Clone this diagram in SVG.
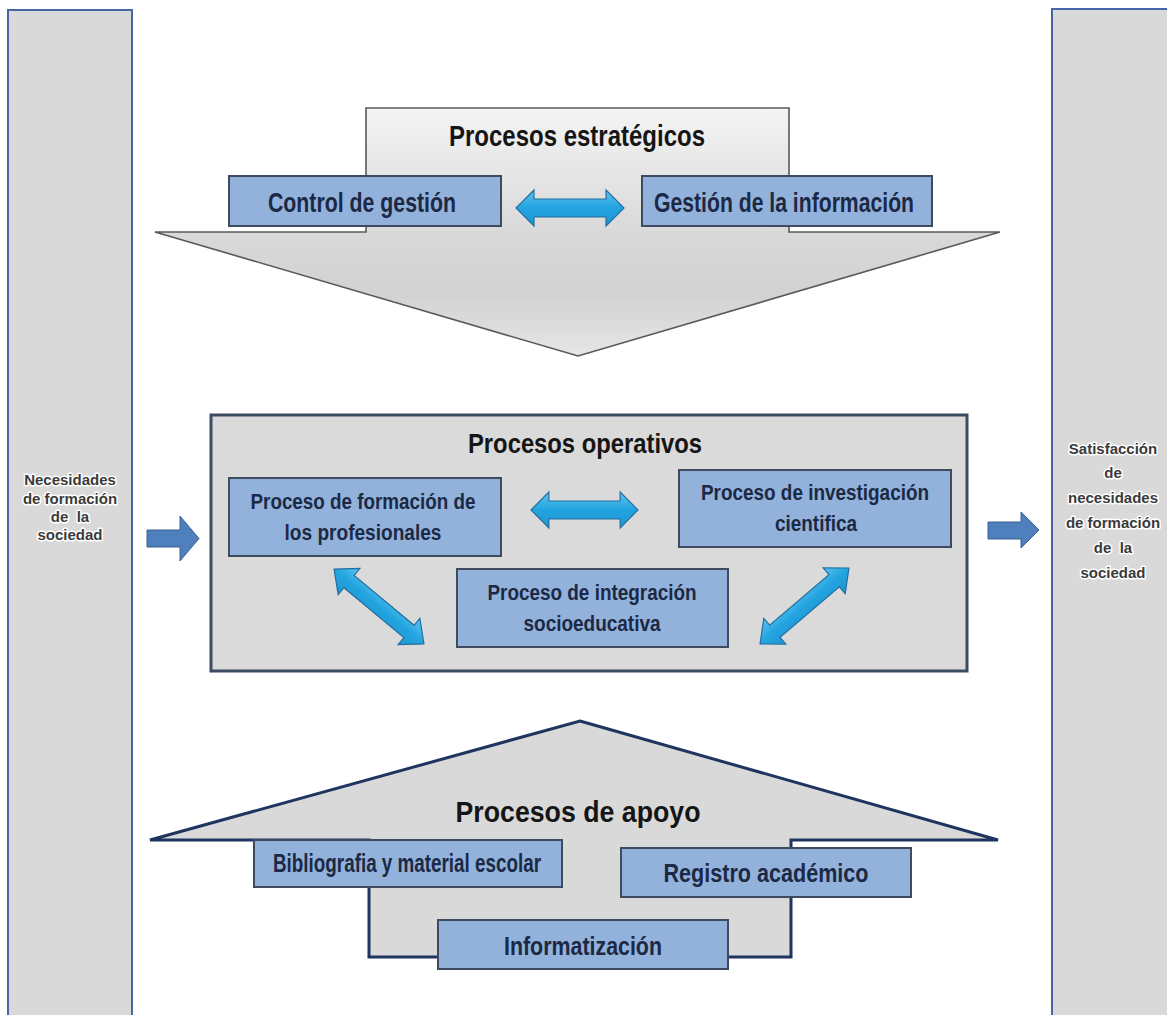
<svg xmlns="http://www.w3.org/2000/svg" width="1167" height="1015" viewBox="0 0 1167 1015">
  <defs>
    <linearGradient id="gStrat" x1="0" y1="108" x2="0" y2="356" gradientUnits="userSpaceOnUse">
      <stop offset="0" stop-color="#f4f4f4"/>
      <stop offset="0.5" stop-color="#d9d9d9"/>
      <stop offset="0.75" stop-color="#d2d2d2"/>
      <stop offset="1" stop-color="#e6e6e6"/>
    </linearGradient>
    <linearGradient id="gCyan" x1="0" y1="0" x2="0" y2="1">
      <stop offset="0" stop-color="#5cc3ee"/>
      <stop offset="0.5" stop-color="#22a4e0"/>
      <stop offset="1" stop-color="#1f95cf"/>
    </linearGradient>
    <polygon id="dbl" points="-54,0 -36,-18 -36,-9 36,-9 36,-18 54,0 36,18 36,9 -36,9 -36,18"/>
    <polygon id="dblDiag" points="-58.5,0 -39,-17 -39,-8 39,-8 39,-17 58.5,0 39,17 39,8 -39,8 -39,17"/>
  </defs>
  <style>
    .bar { fill: #d9d9d9; stroke: #4666a6; stroke-width: 2; }
    .box { fill: #92b2dc; stroke: #3e4b5e; stroke-width: 2; }
    .lbl { font-family: "Liberation Sans Narrow", "Liberation Sans", Arial, sans-serif; font-weight: bold; fill: #1c2944; text-anchor: middle; }
    .title { font-family: "Liberation Sans Narrow", "Liberation Sans", Arial, sans-serif; font-weight: bold; fill: #151515; text-anchor: middle; }
    .side { font-family: "Liberation Sans", Arial, sans-serif; font-weight: bold; font-size: 15px; fill: #3a3a3a; text-anchor: middle; paint-order: stroke; stroke: #ffffff; stroke-width: 3; stroke-linejoin: round; }
    .dbl { fill: url(#gCyan); stroke: #236f9f; stroke-width: 1.2; }
    .blk { fill: #4f7fbc; stroke: #3a6296; stroke-width: 1; }
  </style>

  <rect width="1167" height="1015" fill="#ffffff"/>

  <!-- Left side bar -->
  <g id="necesidades">
    <rect class="bar" x="8" y="10" width="124" height="1012"/>
    <text class="side" x="70" y="485">Necesidades</text>
    <text class="side" x="70" y="504">de formación</text>
    <text class="side" x="70" y="522" xml:space="preserve">de  la</text>
    <text class="side" x="70" y="540">sociedad</text>
  </g>

  <!-- Right side bar -->
  <g id="satisfaccion">
    <rect class="bar" x="1052" y="9" width="120" height="1012"/>
    <text class="side" x="1113" y="454">Satisfacción</text>
    <text class="side" x="1113" y="478">de</text>
    <text class="side" x="1113" y="503">necesidades</text>
    <text class="side" x="1113" y="528">de formación</text>
    <text class="side" x="1113" y="553" xml:space="preserve">de  la</text>
    <text class="side" x="1113" y="578">sociedad</text>
  </g>

  <!-- Strategic processes -->
  <g id="procesos-estrategicos">
    <path d="M366,108 H789 V232 H1000 L578,356 L155,232 H366 Z" fill="url(#gStrat)" stroke="#595959" stroke-width="1.6" stroke-linejoin="miter"/>
    <text class="title" x="577" y="146" font-size="29" textLength="256" lengthAdjust="spacingAndGlyphs">Procesos estratégicos</text>
  </g>
  <g id="control-gestion">
    <rect class="box" x="229" y="176" width="272" height="50"/>
    <text class="lbl" x="362" y="212" font-size="28" textLength="188" lengthAdjust="spacingAndGlyphs">Control de gestión</text>
  </g>
  <g id="gestion-informacion">
    <rect class="box" x="642" y="176" width="290" height="50"/>
    <text class="lbl" x="784" y="212" font-size="28" textLength="260" lengthAdjust="spacingAndGlyphs">Gestión de la información</text>
  </g>

  <!-- Operative processes -->
  <g id="procesos-operativos">
    <rect x="211" y="415" width="756" height="256" fill="#dadada" stroke="#3d4b63" stroke-width="3"/>
    <text class="title" x="585" y="453" font-size="28" textLength="234" lengthAdjust="spacingAndGlyphs">Procesos operativos</text>
  </g>
  <g id="formacion-profesionales">
    <rect class="box" x="229" y="478" width="272" height="78"/>
    <text class="lbl" x="363" y="509" font-size="22" textLength="225" lengthAdjust="spacingAndGlyphs">Proceso de formación de</text>
    <text class="lbl" x="363" y="540" font-size="22" textLength="157" lengthAdjust="spacingAndGlyphs">los profesionales</text>
  </g>
  <g id="investigacion-cientifica">
    <rect class="box" x="679" y="470" width="272" height="77"/>
    <text class="lbl" x="815" y="500" font-size="22" textLength="228" lengthAdjust="spacingAndGlyphs">Proceso de investigación</text>
    <text class="lbl" x="816" y="531" font-size="22" textLength="82" lengthAdjust="spacingAndGlyphs">cientifica</text>
  </g>
  <g id="integracion-socioeducativa">
    <rect class="box" x="457" y="569" width="271" height="78"/>
    <text class="lbl" x="592" y="600" font-size="22" textLength="209" lengthAdjust="spacingAndGlyphs">Proceso de integración</text>
    <text class="lbl" x="592" y="631" font-size="22" textLength="137" lengthAdjust="spacingAndGlyphs">socioeducativa</text>
  </g>

  <!-- Support processes -->
  <g id="procesos-apoyo">
    <path d="M580,721 L998,840 H791 V957 H369 V840 H150 Z" fill="#d9d9d9" stroke="#1f3560" stroke-width="3" stroke-linejoin="miter"/>
    <text class="title" x="578" y="822" font-size="30" textLength="245" lengthAdjust="spacingAndGlyphs">Procesos de apoyo</text>
  </g>
  <g id="bibliografia">
    <rect class="box" x="254" y="840" width="308" height="47"/>
    <text class="lbl" x="407" y="872" font-size="25" textLength="268" lengthAdjust="spacingAndGlyphs">Bibliografia y material escolar</text>
  </g>
  <g id="registro-academico">
    <rect class="box" x="621" y="848" width="290" height="49"/>
    <text class="lbl" x="766" y="882" font-size="25" textLength="205" lengthAdjust="spacingAndGlyphs">Registro académico</text>
  </g>
  <g id="informatizacion">
    <rect class="box" x="438" y="920" width="290" height="49"/>
    <text class="lbl" x="583" y="955" font-size="26" textLength="158" lengthAdjust="spacingAndGlyphs">Informatización</text>
  </g>

  <!-- Connectors -->
  <g id="connectors">
    <use href="#dbl" class="dbl" transform="translate(570,208)"/>
    <use href="#dbl" class="dbl" transform="translate(584.5,510) scale(0.99,1)"/>
    <use href="#dblDiag" class="dbl" transform="translate(379,606.5) rotate(39.8)"/>
    <use href="#dblDiag" class="dbl" transform="translate(804.5,606) rotate(-40.5)"/>
    <polygon class="blk" points="147,530 180,530 180,516 199,538.5 180,561 180,547 147,547"/>
    <polygon class="blk" points="988,522 1021,522 1021,512 1039,530 1021,548 1021,539 988,539"/>
  </g>
</svg>
